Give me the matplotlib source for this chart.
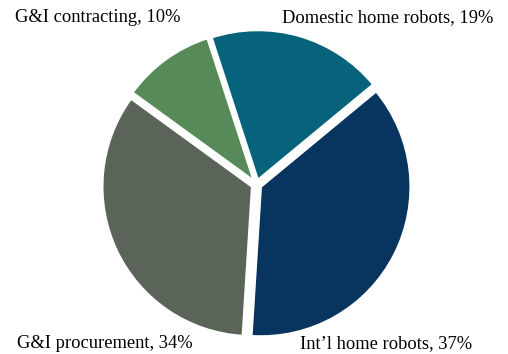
import matplotlib
matplotlib.use("Agg")
import matplotlib.pyplot as plt

segments = ["Domestic home robots", "Int\u2019l home robots", "G&I procurement", "G&I contracting"]
shares = [19, 37, 34, 10]
colors = ["#06637B", "#07355F", "#5A6459", "#578A59"]

fig = plt.figure(figsize=(5.08, 3.54), dpi=100)
ax = fig.add_axes([0, 0, 1, 1])

ax.pie(
    shares,
    colors=colors,
    startangle=108,
    counterclock=False,
    radius=149.5,
    center=(256.5, 169.5),
    explode=[5] * len(shares),
    wedgeprops=dict(edgecolor="white", linewidth=1.5),
)
ax.set_xlim(0, 508)
ax.set_ylim(0, 354)
ax.set_aspect("equal")
ax.axis("off")

font = dict(family="Liberation Serif", fontsize=13.3, color="black")
labels = [f"{s}, {v}%" for s, v in zip(segments, shares)]
fig.text(493 / 508, 1 - 18 / 354, labels[0], ha="right", va="center", **font)
fig.text(300 / 508, 1 - 344 / 354, labels[1], ha="left", va="center", **font)
fig.text(17 / 508, 1 - 344 / 354, labels[2], ha="left", va="center", **font)
fig.text(15 / 508, 1 - 18 / 354, labels[3], ha="left", va="center", **font)

fig.savefig("out.png", dpi=100)
